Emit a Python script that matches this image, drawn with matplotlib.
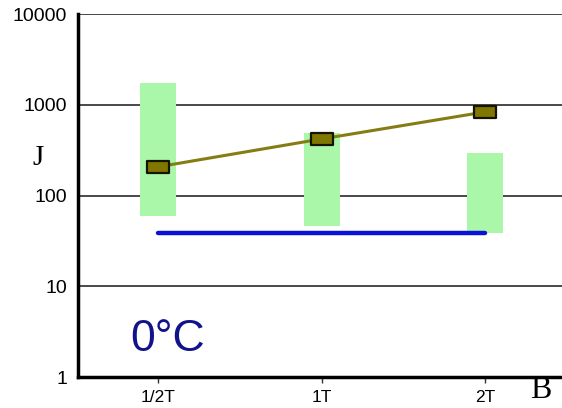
import matplotlib
matplotlib.use("Agg")
import matplotlib.pyplot as plt
import numpy as np
from matplotlib.path import Path

categories = ["1/2T", "1T", "2T"]
range_low = [60, 46, 38.5]
range_high = [1740, 490, 294]
line_values = [207, 420, 834]
blue_level = [39, 39, 39]
ytick_values = [1, 10, 100, 1000, 10000]
ytick_labels = ["1", "10", "100", "1000", "10000"]

fig = plt.figure(figsize=(5.62, 4.08), dpi=100)
ax = fig.add_axes([78/562, 1-377/408, 1-78/562, (377-14)/408])
ax.set_yscale("log")
ax.set_ylim(1, 10000)
x = np.arange(len(categories))
ax.set_xlim(-0.49, 2.47)

for yv in [10, 100, 1000, 10000]:
    ax.axhline(yv, color="#3a3a3a", lw=1.3, zorder=1)

heights = [h - l for h, l in zip(range_high, range_low)]
ax.bar(x, heights, bottom=range_low, width=0.22, color="#aaf7aa", zorder=2)

ax.plot(x, blue_level, color="#0a12d8", lw=3.2, solid_capstyle="round", zorder=3)

rect = Path([(-1, -0.52), (1, -0.52), (1, 0.52), (-1, 0.52), (-1, -0.52)],
            [Path.MOVETO, Path.LINETO, Path.LINETO, Path.LINETO, Path.CLOSEPOLY])
ax.plot(x, line_values, color="#857d14", lw=2.2, marker=rect, markersize=16.5,
        markerfacecolor="#7f7700", markeredgecolor="#141400", markeredgewidth=1.6, zorder=4)

ax.spines["top"].set_visible(False)
ax.spines["right"].set_visible(False)
ax.spines["left"].set_linewidth(2.5)
ax.spines["bottom"].set_linewidth(2.5)

ax.set_yticks(ytick_values)
ax.set_yticklabels(ytick_labels, fontfamily="Liberation Sans", fontsize=14)
ax.yaxis.set_minor_locator(matplotlib.ticker.NullLocator())
ax.tick_params(axis="y", length=0, pad=8)
ax.set_xticks(x)
ax.set_xticklabels(categories, fontfamily="Liberation Sans", fontsize=12.5)
ax.tick_params(axis="x", length=4, width=1, pad=5, color="#333333")

fig.text(38/562, 1-158/408, "J", fontfamily="Liberation Serif", fontsize=21,
         ha="center", va="center")
fig.text(541/562, 1-390/408, "B", fontfamily="Liberation Serif", fontsize=23,
         ha="center", va="center")
ax.text(0.055, 2.57, "0°C", fontfamily="Liberation Sans", fontsize=32, color="#12128a",
        ha="center", va="center")

fig.savefig("out.png", dpi=100)
